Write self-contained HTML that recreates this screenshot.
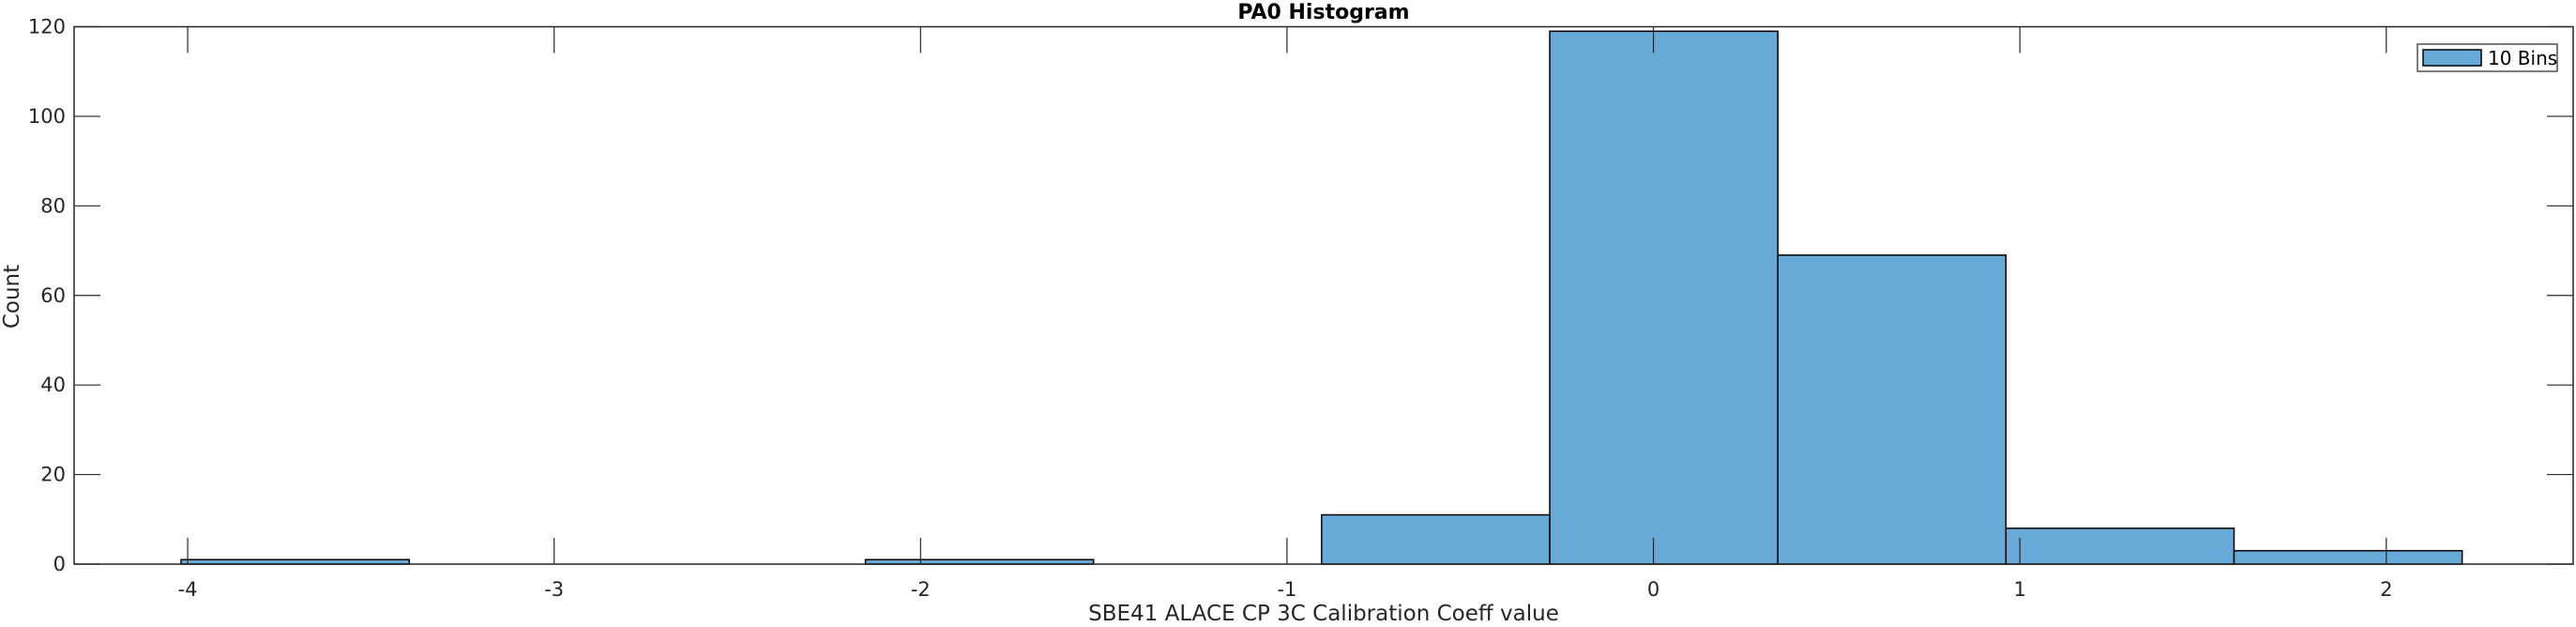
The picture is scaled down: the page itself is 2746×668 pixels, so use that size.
<!DOCTYPE html>
<html><head><meta charset="utf-8"><style>
html,body{margin:0;padding:0;background:#fff;}
svg text{font-family:"DejaVu Sans","Liberation Sans",sans-serif;fill:#262626;}
</style></head><body>
<svg id="chart" width="2746" height="663" xmlns="http://www.w3.org/2000/svg">
<g id="bars"></g>
<g id="axes"></g>
</svg>
<script>
const binStart = -4.018;
const binWidth = 0.6225;
const counts = [1, 0, 0, 1, 0, 11, 119, 69, 8, 3];
const xTicks = [-4, -3, -2, -1, 0, 1, 2];
const yTicks = [0, 20, 40, 60, 80, 100, 120];
const xMin = -4.31, xMax = 2.51, yMin = 0, yMax = 120;
const L = 79, R = 2743, T = 28.5, B = 601;
const NS = 'http://www.w3.org/2000/svg';
function xs(v){ return L + (v - xMin) / (xMax - xMin) * (R - L); }
function ys(v){ return B - (v - yMin) / (yMax - yMin) * (B - T); }
function mk(tag, attrs, parent){ const e = document.createElementNS(NS, tag); for (const k in attrs) e.setAttribute(k, attrs[k]); parent.appendChild(e); return e; }
const bars = document.getElementById('bars');
const axes = document.getElementById('axes');
counts.forEach((c, i) => {
  if (c <= 0) return;
  const x0 = xs(binStart + i * binWidth), x1 = xs(binStart + (i + 1) * binWidth);
  const r = mk('rect', {x: x0, y: ys(c), width: x1 - x0, height: ys(0) - ys(c), fill: '#67aad7', stroke: '#000', 'stroke-width': 1.5}, bars);
  
  
});
const frame = mk('rect', {x: L, y: T, width: R - L, height: B - T, fill: 'none', stroke: '#262626', 'stroke-width': 1.5}, axes);


xTicks.forEach(v => {
  const x = xs(v);
  mk('line', {x1: x, x2: x, y1: B, y2: B - 28, stroke: '#262626', 'stroke-width': 1.2}, axes);
  mk('line', {x1: x, x2: x, y1: T, y2: T + 28, stroke: '#262626', 'stroke-width': 1.2}, axes);
  const t = mk('text', {x: x, y: 635, 'text-anchor': 'middle', 'font-size': 21}, axes);
  t.textContent = v;
  
  
});
yTicks.forEach(v => {
  const y = ys(v);
  mk('line', {x1: L, x2: L + 28, y1: y, y2: y, stroke: '#262626', 'stroke-width': 1.2}, axes);
  mk('line', {x1: R, x2: R - 28, y1: y, y2: y, stroke: '#262626', 'stroke-width': 1.2}, axes);
  const t = mk('text', {x: 70, y: y + 7, 'text-anchor': 'end', 'font-size': 21}, axes);
  t.textContent = v;
  
  
});
</script>
<svg style="position:absolute;left:0;top:0" width="2746" height="663" xmlns="http://www.w3.org/2000/svg">
<text x="1411" y="20" text-anchor="middle" font-size="22" font-weight="bold" style="fill:#000">PA0 Histogram</text>
<text x="1411" y="661" text-anchor="middle" font-size="23">SBE41 ALACE CP 3C Calibration Coeff value</text>
<text transform="translate(20,316) rotate(-90)" text-anchor="middle" font-size="23">Count</text>
<g>
<rect x="2577" y="47" width="149" height="29" fill="#fff" stroke="#262626" stroke-width="1.2"/>
<rect x="2583" y="53" width="62" height="17" fill="#67aad7" stroke="#000" stroke-width="1.5"/>
<text x="2652" y="69" font-size="20" style="fill:#000">10 Bins</text>
</g>
</svg>
</body></html>
